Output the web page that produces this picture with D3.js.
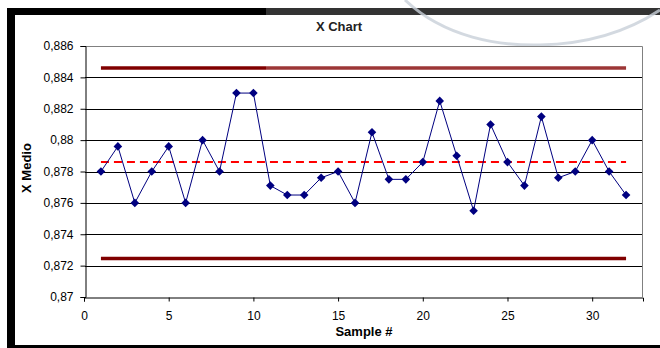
<!DOCTYPE html>
<html>
<head>
<meta charset="utf-8">
<script src="https://cdn.jsdelivr.net/npm/d3@7"></script>
<style>
  html, body { margin: 0; padding: 0; background: #fff; }
  svg { display: block; font-family: "Liberation Sans", Arial, sans-serif; }
</style>
</head>
<body>
<svg id="chart" width="660" height="348"></svg>
<script>
// Sample means for each subgroup
const samples = d3.range(1, 33);
const xMeans = [
  0.878, 0.8796, 0.876, 0.878, 0.8796, 0.876, 0.880, 0.878,
  0.883, 0.883, 0.8771, 0.8765, 0.8765, 0.8776, 0.878, 0.876,
  0.8805, 0.8775, 0.8775, 0.8786, 0.8825, 0.879, 0.8755, 0.881,
  0.8786, 0.8771, 0.8815, 0.8776, 0.878, 0.880, 0.878, 0.8765
];
// Control limits
const ucl = 0.8846;
const centerLine = 0.8786;
const lcl = 0.87245;

// Axis ticks
const yTicks = [0.87, 0.872, 0.874, 0.876, 0.878, 0.88, 0.882, 0.884, 0.886];
const yTickLabels = ["0,87", "0,872", "0,874", "0,876", "0,878", "0,88", "0,882", "0,884", "0,886"];
const xTicks = [0, 5, 10, 15, 20, 25, 30];

const svg = d3.select("#chart");
const W = 660, H = 348;
const plot = { left: 85, right: 643, top: 46, bottom: 297 };
const FONT = "'Liberation Sans', Arial, sans-serif";

const x = d3.scaleLinear().domain([0, 33]).range([plot.left - 1, plot.right]);
const y = d3.scaleLinear().domain([0.87, 0.886]).range([plot.bottom, plot.top]);

// Window frame around the chart
svg.append("rect").attr("x", 0).attr("y", 0).attr("width", W).attr("height", H).attr("fill", "#fff");
svg.append("rect").attr("x", 7).attr("y", 8).attr("width", 259).attr("height", 7).attr("fill", "#000");
svg.append("rect").attr("x", 266).attr("y", 8).attr("width", 394).attr("height", 7).attr("fill", "#333");
svg.append("rect").attr("x", 7).attr("y", 8).attr("width", 8).attr("height", 340).attr("fill", "#000");
svg.append("rect").attr("x", 7).attr("y", 345).attr("width", 653).attr("height", 3).attr("fill", "#000");

// Faint arc in the top-right corner
svg.append("path")
  .attr("d", "M405,0 C445,38 500,46 540,45 C590,44 630,30 660,10")
  .attr("fill", "none")
  .attr("stroke", "#c8d0d8")
  .attr("stroke-width", 3)
  .attr("opacity", 0.8);

// Title
svg.append("text")
  .attr("x", 339).attr("y", 31)
  .attr("text-anchor", "middle")
  .attr("font-size", 13).attr("font-weight", "bold")
  .attr("fill", "#222")
  .text("X Chart");

// Horizontal gridlines
svg.append("g")
  .selectAll("line")
  .data(yTicks.filter(t => t > 0.87 && t < 0.886))
  .join("line")
  .attr("x1", plot.left).attr("x2", plot.right)
  .attr("y1", d => Math.round(y(d)) + 0.5).attr("y2", d => Math.round(y(d)) + 0.5)
  .attr("stroke", "#000").attr("stroke-width", 1);

// Plot frame (top and right)
svg.append("path")
  .attr("d", `M${plot.left},${plot.top + 0.5}H${plot.right - 0.5}V${plot.bottom}`)
  .attr("fill", "none").attr("stroke", "#808080").attr("stroke-width", 1);

// Y axis
const yAxis = d3.axisLeft(y)
  .tickValues(yTicks)
  .tickFormat((d, i) => yTickLabels[i])
  .tickSize(5).tickPadding(7);
const gy = svg.append("g").attr("transform", `translate(${plot.left + 0.5},0)`).call(yAxis);
gy.select(".domain").attr("stroke", "#000");
gy.selectAll(".tick line").attr("stroke", "#000");
gy.selectAll("text").attr("font-size", 12).attr("fill", "#000").attr("font-family", FONT);

// X axis
const xAxis = d3.axisBottom(x)
  .tickValues(xTicks)
  .tickFormat(d3.format("d"))
  .tickSize(4).tickPadding(10);
const gx = svg.append("g").attr("transform", `translate(0,${plot.bottom + 0.5})`).call(xAxis);
gx.select(".domain").attr("stroke", "#000");
gx.selectAll(".tick line").attr("stroke", "#000");
gx.selectAll("text").attr("font-size", 12).attr("fill", "#000").attr("font-family", FONT);

// Axis titles
svg.append("text")
  .attr("x", 364).attr("y", 336)
  .attr("text-anchor", "middle")
  .attr("font-size", 13).attr("font-weight", "bold")
  .text("Sample #");
svg.append("text")
  .attr("transform", "translate(31,168) rotate(-90)")
  .attr("text-anchor", "middle")
  .attr("font-size", 13).attr("font-weight", "bold")
  .text("X Medio");

// Control limit lines
const xFirst = samples[0], xLast = samples[samples.length - 1];
const defs = svg.append("defs");
const grad = defs.append("linearGradient")
  .attr("id", "uclGrad").attr("gradientUnits", "userSpaceOnUse")
  .attr("x1", x(xFirst)).attr("x2", x(xLast)).attr("y1", 0).attr("y2", 0);
const split = (266 - x(xFirst)) / (x(xLast) - x(xFirst));
grad.append("stop").attr("offset", split).attr("stop-color", "#800000");
grad.append("stop").attr("offset", split).attr("stop-color", "#9c3636");

svg.append("line")
  .attr("x1", x(xFirst)).attr("x2", x(xLast))
  .attr("y1", y(ucl)).attr("y2", y(ucl))
  .attr("stroke", "url(#uclGrad)").attr("stroke-width", 3.5);
svg.append("line")
  .attr("x1", x(xFirst)).attr("x2", x(xLast))
  .attr("y1", y(lcl)).attr("y2", y(lcl))
  .attr("stroke", "#800000").attr("stroke-width", 3.5);
svg.append("line")
  .attr("x1", x(xFirst)).attr("x2", x(xLast))
  .attr("y1", y(centerLine)).attr("y2", y(centerLine))
  .attr("stroke", "#ff0000").attr("stroke-width", 2)
  .attr("stroke-dasharray", "8,5");

// Sample mean series
const pts = samples.map((s, i) => [s, xMeans[i]]);
svg.append("path")
  .datum(pts)
  .attr("d", d3.line().x(d => x(d[0])).y(d => y(d[1])))
  .attr("fill", "none")
  .attr("stroke", "#000080")
  .attr("stroke-width", 1);

// Square diamond markers
const r = 4.3;
svg.append("g")
  .selectAll("path")
  .data(pts)
  .join("path")
  .attr("transform", d => `translate(${x(d[0])},${y(d[1])})`)
  .attr("d", `M0,${-r}L${r},0L0,${r}L${-r},0Z`)
  .attr("fill", "#000080");
</script>
</body>
</html>
